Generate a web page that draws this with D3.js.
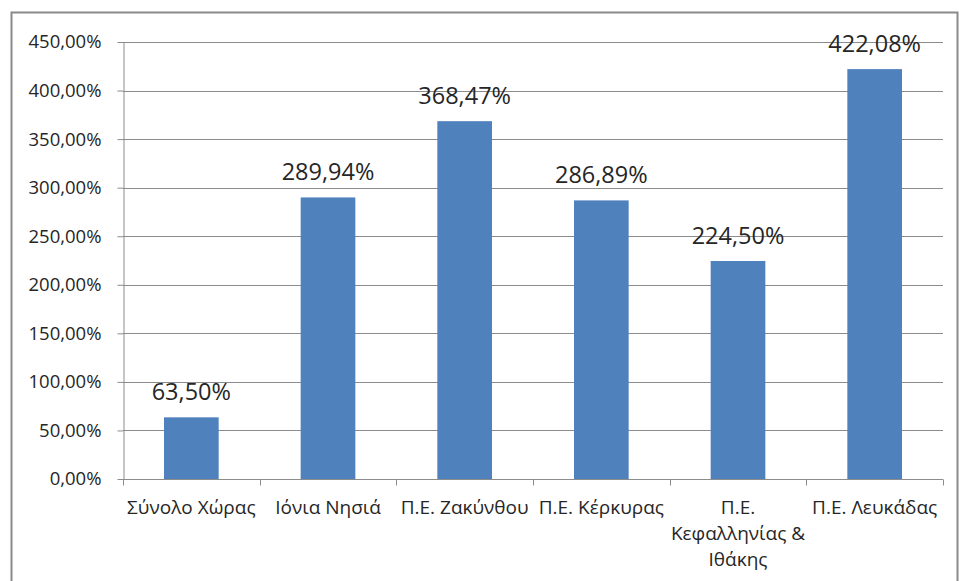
<!DOCTYPE html>
<html>
<head>
<meta charset="utf-8">
<script src="https://cdn.jsdelivr.net/npm/d3@7"></script>
<style>
  body { margin: 0; background: #fff; }
  svg { display: block; font-family: "Open Sans", "Noto Sans", sans-serif; }
</style>
</head>
<body>
<svg id="chart" width="962" height="581"></svg>
<script>
const categories = [
  'Σύνολο Χώρας',
  'Ιόνια Νησιά',
  'Π.Ε. Ζακύνθου',
  'Π.Ε. Κέρκυρας',
  'Π.Ε.\nΚεφαλληνίας &\nΙθάκης',
  'Π.Ε. Λευκάδας'
];
const values = [63.50, 289.94, 368.47, 286.89, 224.50, 422.08];
const yTicks = [0, 50, 100, 150, 200, 250, 300, 350, 400, 450];

const fmt = (v) => d3.format('.2f')(v).replace('.', ',') + '%';

const svg = d3.select('#chart');

// outer chart frame
svg.append('rect')
  .attr('x', 11.5).attr('y', 12.5)
  .attr('width', 946).attr('height', 580)
  .attr('fill', 'none')
  .attr('stroke', '#8a8a8a')
  .attr('stroke-width', 2);

const margin = { top: 42, left: 123, right: 943, bottom: 479 };

const x = d3.scaleBand()
  .domain(categories)
  .range([margin.left, margin.right])
  .paddingInner(0.6)
  .paddingOuter(0.3);

const y = d3.scaleLinear()
  .domain([0, 450])
  .range([margin.bottom, margin.top]);

// gridlines
svg.append('g')
  .selectAll('line')
  .data(yTicks.filter((d) => d > 0))
  .join('line')
  .attr('x1', margin.left).attr('x2', margin.right)
  .attr('y1', (d) => Math.round(y(d)) + 0.5)
  .attr('y2', (d) => Math.round(y(d)) + 0.5)
  .attr('stroke', '#8c8c8c')
  .attr('stroke-width', 1);

// y axis
const yAxis = svg.append('g')
  .attr('transform', `translate(${margin.left + 0.5},0)`)
  .call(d3.axisLeft(y).tickValues(yTicks).tickFormat(fmt).tickSize(6).tickSizeOuter(0));
yAxis.select('.domain').attr('stroke', '#8c8c8c');
yAxis.selectAll('.tick line').attr('stroke', '#8c8c8c');
yAxis.selectAll('.tick text')
  .attr('x', -22)
  .attr('fill', '#262626')
  .style('font-size', '18.5px')
  .style('font-family', '"Open Sans", sans-serif');

// bars
svg.append('g')
  .selectAll('rect')
  .data(values)
  .join('rect')
  .attr('x', (d, i) => x(categories[i]))
  .attr('width', x.bandwidth())
  .attr('y', (d) => y(d))
  .attr('height', (d) => y(0) - y(d))
  .attr('fill', '#4f81bd');

// data labels
svg.append('g')
  .selectAll('text')
  .data(values)
  .join('text')
  .attr('x', (d, i) => x(categories[i]) + x.bandwidth() / 2)
  .attr('y', (d) => y(d) - 17)
  .attr('text-anchor', 'middle')
  .attr('fill', '#262626')
  .style('font-size', '23.5px')
  .text((d) => fmt(d));

// x axis
const xAxis = svg.append('g').attr('transform', `translate(0,${margin.bottom + 0.5})`);
xAxis.append('line')
  .attr('x1', margin.left).attr('x2', margin.right)
  .attr('stroke', '#8c8c8c');
xAxis.selectAll('.cat-tick')
  .data(d3.range(categories.length + 1))
  .join('line')
  .attr('class', 'cat-tick')
  .attr('x1', (i) => Math.round(margin.left + i * (margin.right - margin.left) / categories.length) + 0.5)
  .attr('x2', (i) => Math.round(margin.left + i * (margin.right - margin.left) / categories.length) + 0.5)
  .attr('y1', 0).attr('y2', 6)
  .attr('stroke', '#8c8c8c');

const labels = xAxis.selectAll('.cat-label')
  .data(categories)
  .join('text')
  .attr('class', 'cat-label')
  .attr('text-anchor', 'middle')
  .attr('fill', '#262626')
  .style('font-size', '19px')
  .attr('transform', (d) => `translate(${x(d) + x.bandwidth() / 2},0)`);
labels.selectAll('tspan')
  .data((d) => d.split('\n'))
  .join('tspan')
  .attr('x', 0)
  .attr('y', (d, i) => 34 + i * 26)
  .text((d) => d);
</script>
</body>
</html>
